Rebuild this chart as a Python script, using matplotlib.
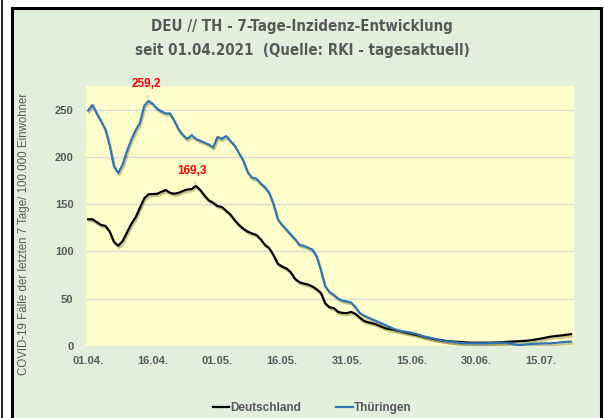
import numpy as np
import matplotlib
matplotlib.use('Agg')
import matplotlib.pyplot as plt
import matplotlib.patheffects as pe
from matplotlib.patches import Rectangle
from matplotlib.lines import Line2D

plt.rcParams['font.family'] = ['Liberation Sans', 'DejaVu Sans']

# 7-Tage-Inzidenz ab 01.04.2021 (taeglich)
deutschland = [134, 134, 131, 128, 127, 121, 110, 106, 111, 120,
               129, 136, 146, 156, 160.5, 160.7, 161, 163, 165, 162,
               161, 162, 164, 165.5, 166, 169.3, 165, 159, 154, 151.5,
               148, 147, 143, 139, 133, 128, 124, 121, 119, 117.5,
               113, 107, 103.5, 96, 87, 84, 82, 78, 71, 67.5,
               66, 65, 63, 60, 56, 45, 41, 40, 36, 35,
               34.7, 36, 34, 30, 26.5, 25, 24, 22.5, 20.5, 18.7,
               17.8, 17, 16, 15, 13.8, 12.7, 11.8, 10.8, 9.6, 8.6,
               7.5, 6.6, 6, 5.4, 4.9, 4.6, 4.3, 4, 3.7, 3.5,
               3.5, 3.5, 3.5, 3.5, 3.6, 3.8, 4, 4.3, 4.6, 4.8,
               5.1, 5.3, 5.7, 6.3, 7, 7.8, 8.7, 9.7, 10.3, 10.8,
               11.2, 12, 12.5]
thueringen = [249, 255, 246, 238, 229, 212, 190, 183, 192, 206,
              218, 228, 236, 254, 259.2, 256, 251, 248, 246, 246,
              238, 229, 223, 219, 223, 219, 217, 215, 213, 210,
              221, 219, 222, 217, 212, 204, 196, 184, 178, 177,
              172, 168, 162, 150, 134, 128, 123, 118, 113, 107,
              106, 104, 102, 95, 80, 63, 57, 54, 50, 48,
              47, 46, 41, 35, 32, 30, 28, 26, 24, 22,
              20, 18, 16.5, 15.5, 14.8, 14, 13, 11.5, 10, 9,
              8, 7, 6.2, 5.3, 4.6, 4, 3.4, 3, 2.8, 2.8,
              2.8, 2.8, 2.8, 3, 3.2, 3.4, 3.5, 3.4, 2.5, 1.5,
              1.0, 1.3, 1.8, 2.2, 2.4, 2.6, 2.8, 2.8, 3.2, 3.6,
              4, 4.4, 4.6]
tick_labels = ['01.04.', '16.04.', '01.05.', '16.05.', '31.05.', '15.06.', '30.06.', '15.07.']

grey = '#595959'
blue = '#2E75B6'
days = np.arange(len(deutschland))

fig = plt.figure(figsize=(6.04, 4.18), dpi=100, facecolor='white')
# Rahmen
fig.patches.append(Rectangle((11.5/604, -0.05), 589/604, 1.05 - 7.5/418,
                             transform=fig.transFigure, facecolor='#E2EFDA',
                             edgecolor='black', linewidth=2.2, zorder=-2))
fig.add_artist(Line2D([1.5/604, 1.5/604], [0, 1], transform=fig.transFigure,
                      color='black', linewidth=1.2, zorder=-1))

ax = fig.add_axes([86/604, 1 - 346/418, 488/604, 260/418])
ax.set_facecolor('#FFFFCC')
shadow = [pe.SimpleLineShadow(offset=(0.8, -1.5), shadow_color='#6b6000', alpha=0.35), pe.Normal()]
ax.plot(days, deutschland, color='black', lw=1.6, label='Deutschland', path_effects=shadow, zorder=3)
ax.plot(days, thueringen, color=blue, lw=1.6, label='Thüringen', path_effects=shadow, zorder=3)

ax.set_xlim(-0.5, len(days) - 0.3)
ax.set_ylim(0, 275)
ax.set_yticks(range(0, 251, 50))
ax.set_xticks(range(0, len(days), 15))
ax.set_xticklabels(tick_labels)
ax.grid(axis='y', color='#D9D9D9', lw=1)
ax.set_axisbelow(True)
for s in ax.spines.values():
    s.set_visible(False)
ax.tick_params(length=0, colors=grey, labelsize=8)
for lab in ax.get_xticklabels() + ax.get_yticklabels():
    lab.set_fontweight('bold')
ax.tick_params(axis='x', pad=7)
ax.tick_params(axis='y', pad=9)

ax.set_ylabel('COVID-19 Fälle der letzten 7 Tage/ 100.000 Einwohner', color=grey, fontsize=8.3)
ax.yaxis.set_label_coords(-0.114, 0.43)

# Spitzenwerte
i_th = int(np.argmax(thueringen))
i_de = int(np.argmax(deutschland))
ax.annotate('259,2', xy=(i_th, thueringen[i_th]), xytext=(i_th - 0.5, 271),
            ha='center', va='bottom', color='red', fontsize=8.5, fontweight='bold',
            arrowprops=dict(arrowstyle='-', color='#A6A6A6', lw=0.6), annotation_clip=False)
ax.annotate('169,3', xy=(i_de, deutschland[i_de]), xytext=(i_de - 1, 179),
            ha='center', va='bottom', color='red', fontsize=8.5, fontweight='bold',
            arrowprops=dict(arrowstyle='-', color='#A6A6A6', lw=0.6))

title_kw = dict(ha='center', va='center', color=grey, fontsize=10.8, fontweight='bold',
                family='DejaVu Sans', stretch='condensed')
fig.text(0.5, 1 - 27/418, 'DEU // TH - 7-Tage-Inzidenz-Entwicklung', **title_kw)
fig.text(0.5, 1 - 50/418, 'seit 01.04.2021  (Quelle: RKI - tagesaktuell)', **title_kw)

leg = fig.legend(loc='center', bbox_to_anchor=(312/604, 1 - 408/418), ncol=2, frameon=False,
                 handlelength=1.4, handletextpad=0.05, columnspacing=3.0,
                 labelcolor=grey, prop={'weight': 'bold', 'size': 8.5})
for h in leg.legend_handles:
    h.set_path_effects([])

fig.savefig('out.png', dpi=100, facecolor='white')
